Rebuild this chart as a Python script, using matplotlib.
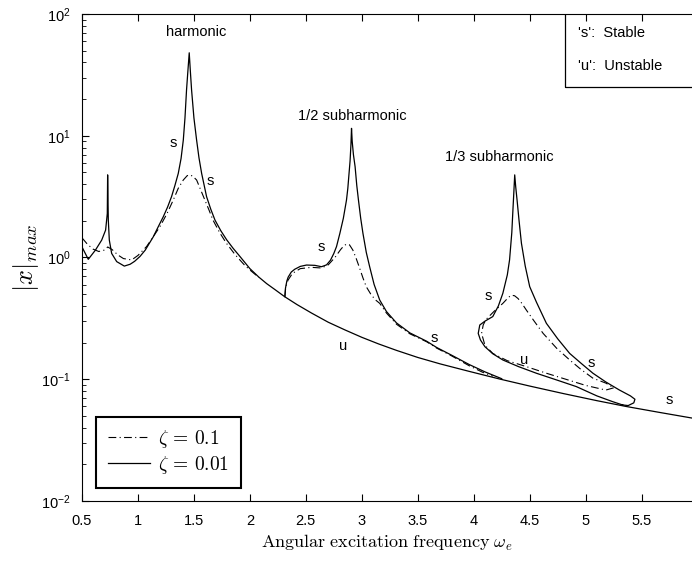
import matplotlib
matplotlib.use("Agg")
import matplotlib.pyplot as plt
from matplotlib.lines import Line2D
from matplotlib.patches import Rectangle

plt.rcParams["font.family"] = ["Liberation Sans", "DejaVu Sans"]
plt.rcParams["mathtext.fontset"] = "cm"

# low-frequency part of the harmonic response, zeta = 0.01 (solid)
harm_w_01 = [0.5, 0.556, 0.62, 0.676, 0.711, 0.726, 0.729, 0.735, 0.744, 0.765,
             0.81, 0.878, 0.93, 0.97, 1.018, 1.065, 1.137, 1.18, 1.226, 1.265,
             1.30, 1.33, 1.36, 1.385, 1.405, 1.42, 1.434, 1.445, 1.458, 1.468,
             1.479, 1.50, 1.524, 1.545, 1.569, 1.613, 1.65, 1.688, 1.74, 1.792,
             1.85, 1.911, 1.955]
harm_x_01 = [1.22, 0.966, 1.15, 1.39, 1.68, 2.3, 4.77, 2.03, 1.39, 1.08,
             0.925, 0.85, 0.88, 0.93, 1.02, 1.15, 1.48, 1.78, 2.16, 2.6,
             3.16, 3.9, 4.9, 6.5, 9.2, 14.0, 23.8, 33.0, 48.0, 34.0,
             23.8, 14.0, 9.2, 6.6, 4.9, 3.16, 2.5, 2.03, 1.66, 1.40,
             1.19, 1.02, 0.91]

# low-frequency part of the harmonic response, zeta = 0.1 (dash-dot)
harm_w_1 = [0.5, 0.55, 0.6, 0.65, 0.70, 0.73, 0.77, 0.82, 0.87, 0.944,
            1.0, 1.077, 1.14, 1.196, 1.26, 1.315, 1.36, 1.405, 1.44, 1.464,
            1.49, 1.524, 1.56, 1.598, 1.635, 1.67, 1.73, 1.79, 1.87, 1.955,
            2.0, 2.08]
harm_x_1 = [1.45, 1.28, 1.17, 1.12, 1.15, 1.22, 1.16, 1.05, 0.98, 0.955,
            1.04, 1.23, 1.5, 1.79, 2.3, 2.96, 3.7, 4.33, 4.7, 4.77,
            4.65, 4.33, 3.6, 2.96, 2.45, 2.03, 1.6, 1.31, 1.05, 0.86,
            0.79, 0.685]

# high-frequency tail shared by both damping values
tail_w = [2.0, 2.08, 2.15, 2.23, 2.31, 2.42, 2.55, 2.7, 2.85, 3.0,
          3.15, 3.31, 3.5, 3.7, 3.96, 4.23, 4.5, 4.8, 5.1, 5.36,
          5.65, 5.95]
tail_x = [0.81, 0.69, 0.61, 0.54, 0.477, 0.411, 0.35, 0.294, 0.254, 0.221,
          0.195, 0.1726, 0.151, 0.1337, 0.116, 0.1005, 0.0879, 0.0763, 0.0667, 0.0598,
          0.0536, 0.048]

# 1/2 subharmonic branch
sub2_w_01 = [2.3125, 2.318, 2.33, 2.342, 2.37, 2.40, 2.45, 2.506, 2.58, 2.64,
             2.685, 2.72, 2.75, 2.774, 2.804, 2.835, 2.863, 2.875, 2.885, 2.895,
             2.903, 2.908, 2.914, 2.925, 2.94, 2.955, 2.97, 2.99, 3.01, 3.04,
             3.07, 3.11, 3.16, 3.22, 3.31, 3.43, 3.58, 3.67, 3.8, 3.96,
             4.1, 4.25]
sub2_x_01 = [0.477, 0.56, 0.64, 0.69, 0.76, 0.80, 0.845, 0.867, 0.862, 0.84,
             0.87, 0.95, 1.08, 1.23, 1.58, 2.1, 2.96, 3.7, 4.8, 6.2,
             8.5, 11.5, 9.0, 7.0, 5.57, 3.9, 2.96, 2.1, 1.58, 1.1,
             0.84, 0.6, 0.447, 0.36, 0.29, 0.24, 0.205, 0.182, 0.158, 0.132,
             0.115, 0.101]
sub2_w_1 = [2.3125, 2.32, 2.34, 2.38, 2.45, 2.55, 2.64, 2.70, 2.76, 2.81,
            2.84, 2.865, 2.89, 2.92, 2.95, 2.98, 3.01, 3.04, 3.08, 3.12,
            3.16, 3.22, 3.31, 3.43, 3.58, 3.67, 3.8, 3.96, 4.08, 4.17]
sub2_x_1 = [0.477, 0.57, 0.65, 0.74, 0.81, 0.83, 0.82, 0.87, 1.0, 1.16,
            1.25, 1.29, 1.27, 1.15, 0.98, 0.82, 0.68, 0.575, 0.5, 0.45,
            0.42, 0.35, 0.283, 0.236, 0.203, 0.18, 0.156, 0.129, 0.114, 0.106]

# 1/3 subharmonic loop
sub3_w_01 = [5.33, 5.24, 5.1, 4.917, 4.75, 4.56, 4.4, 4.26, 4.17, 4.1,
             4.06, 4.04, 4.054, 4.1, 4.17, 4.22, 4.26, 4.3, 4.32, 4.34,
             4.35, 4.358, 4.366, 4.375, 4.387, 4.405, 4.426, 4.46, 4.5, 4.56,
             4.649, 4.75, 4.857, 4.96, 5.065, 5.18, 5.30, 5.40, 5.44, 5.43,
             5.38, 5.33]
sub3_x_01 = [0.0615, 0.0655, 0.073, 0.087, 0.098, 0.112, 0.127, 0.144, 0.162, 0.185,
             0.21, 0.238, 0.279, 0.3, 0.327, 0.4, 0.508, 0.72, 0.955, 1.6,
             2.45, 3.4, 4.77, 3.8, 2.97, 2.0, 1.31, 0.85, 0.576, 0.43,
             0.288, 0.215, 0.163, 0.135, 0.112, 0.095, 0.0817, 0.073, 0.0685, 0.064,
             0.0608, 0.0615]
sub3_w_1 = [5.25, 5.18, 5.0, 4.83, 4.65, 4.47, 4.3, 4.17, 4.1, 4.07,
            4.085, 4.11, 4.18, 4.26, 4.31, 4.336, 4.365, 4.396, 4.43, 4.47,
            4.54, 4.62, 4.74, 4.857, 4.96, 5.065, 5.18, 5.25]
sub3_x_1 = [0.085, 0.0815, 0.089, 0.0995, 0.112, 0.127, 0.142, 0.163, 0.19, 0.238,
            0.28, 0.31, 0.36, 0.42, 0.47, 0.49, 0.485, 0.46, 0.42, 0.37,
            0.3, 0.238, 0.18, 0.144, 0.12, 0.102, 0.093, 0.085]

region_labels = ["harmonic", "1/2 subharmonic", "1/3 subharmonic"]
region_pos = [(1.518, 71), (2.911, 14.5), (4.232, 6.7)]
stab_labels = ["s", "s", "s", "s", "u", "s", "u", "s", "s"]
stab_pos = [(1.3125, 8.7), (1.643, 4.25), (2.634, 1.22), (3.643, 0.218), (2.83, 0.187),
            (4.134, 0.483), (4.446, 0.144), (5.054, 0.136), (5.75, 0.0676)]

fig = plt.figure(figsize=(6.92, 5.64), dpi=100)
ax = fig.add_axes([0.1185, 0.1117, 0.8815, 0.8635])

dd = (0, (7, 3, 1, 3))
solid_kw = dict(color="black", lw=0.9)
dash_kw = dict(color="black", lw=0.8, linestyle=dd)

ax.plot(harm_w_1, harm_x_1, **dash_kw)
ax.plot(sub2_w_1, sub2_x_1, **dash_kw)
ax.plot(sub3_w_1, sub3_x_1, **dash_kw)
ax.plot(harm_w_01 + tail_w, harm_x_01 + tail_x, **solid_kw)
ax.plot(sub2_w_01, sub2_x_01, **solid_kw)
ax.plot(sub3_w_01, sub3_x_01, **solid_kw)

ax.set_yscale("log")
ax.set_xlim(0.5, 5.95)
ax.set_ylim(1e-2, 1e2)
ax.set_xticks([0.5, 1, 1.5, 2, 2.5, 3, 3.5, 4, 4.5, 5, 5.5])
ax.set_xticklabels(["0.5", "1", "1.5", "2", "2.5", "3", "3.5", "4", "4.5", "5", "5.5"])
ax.tick_params(axis="both", which="both", direction="in", top=True, right=False,
               labelsize=10.5)
ax.tick_params(axis="x", which="major", length=5, pad=9)
ax.tick_params(axis="y", which="major", length=5, pad=8)
ax.tick_params(axis="y", which="minor", length=3)
ax.spines["right"].set_visible(False)

for txt, (x, y) in zip(region_labels, region_pos):
    ax.text(x, y, txt, ha="center", va="center", fontsize=10.5)
for txt, (x, y) in zip(stab_labels, stab_pos):
    ax.text(x, y, txt, ha="center", va="center", fontsize=10.5)

ax.set_xlabel(r"$\mathrm{Angular\ excitation\ frequency}\ \omega_e$", fontsize=13, labelpad=4)
ax.set_ylabel(r"$|x|_{max}$", fontsize=19, labelpad=0)

# stability key, top right
ax.add_patch(Rectangle((0.792, 0.850), 0.25, 0.2, transform=ax.transAxes,
                       fill=False, edgecolor="black", lw=0.9, clip_on=True))
ax.text(0.813, 0.961, "'s':  Stable", transform=ax.transAxes, fontsize=10.5, va="center")
ax.text(0.813, 0.893, "'u':  Unstable", transform=ax.transAxes, fontsize=10.5, va="center")

handles = [Line2D([], [], **dash_kw), Line2D([], [], **solid_kw)]
leg = ax.legend(handles, [r"$\zeta\,=\,0.1$", r"$\zeta\,=\,0.01$"], loc="lower left",
                bbox_to_anchor=(0.023, 0.027), fontsize=14, fancybox=False,
                edgecolor="black", framealpha=1, handlelength=2.2, handletextpad=0.4,
                borderpad=0.6, labelspacing=0.2, borderaxespad=0)
leg.get_frame().set_linewidth(1.5)

fig.savefig("out.png", dpi=100)
